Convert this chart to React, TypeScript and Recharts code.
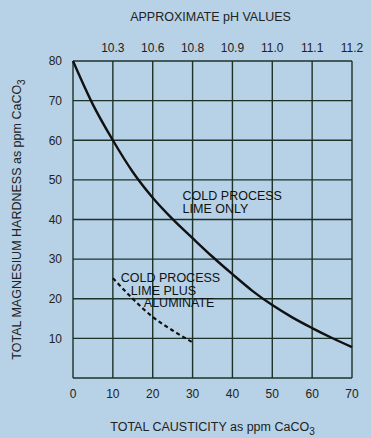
import { CartesianGrid, Label, Line, LineChart, ReferenceDot, XAxis, YAxis } from 'recharts';

const causticity = [0, 5, 10, 15, 20, 25, 30, 35, 40, 45, 50, 55, 60, 65, 70];
const limeOnly = [80, 69, 60, 52, 45.5, 40.1, 35.3, 30.6, 26.2, 22, 18.4, 15.3, 12.6, 10.1, 7.8];
const limeAluminate = [null, null, 25.2, 20, 15.4, 12, 9, null, null, null, null, null, null, null, null];

const xTicks = [0, 10, 20, 30, 40, 50, 60, 70];
const yTicks = [0, 10, 20, 30, 40, 50, 60, 70, 80];
const phTicks = [10, 20, 30, 40, 50, 60, 70];
const phLabels = ['10.3', '10.6', '10.8', '10.9', '11.0', '11.1', '11.2'];

const data = causticity.map((x, i) => ({
	x,
	solid: limeOnly[i],
	dashed: limeAluminate[i],
}));

const font = 'Liberation Sans, Arial, sans-serif';
const ink = '#222';
const grid = '#1d3228';

const LimeOnlyNote = (p: any) => (
	<text x={p.cx} y={p.cy} fontFamily={font} fontSize={12.5} fill='#111'>
		<tspan x={p.cx}>COLD PROCESS</tspan>
		<tspan x={p.cx} dy={13}>LIME ONLY</tspan>
	</text>
);

const AluminateNote = (p: any) => (
	<text x={p.cx} y={p.cy} fontFamily={font} fontSize={12.5} fill='#111'>
		<tspan x={p.cx}>COLD PROCESS</tspan>
		<tspan x={p.cx + 10} dy={12.5}>LIME PLUS</tspan>
		<tspan x={p.cx + 23} dy={12.5}>ALUMINATE</tspan>
	</text>
);

const App = () => {
	return (
		<div style={{ position: 'absolute', left: 0, top: 0, width: 371, height: 438, background: '#b7d1e6' }}>
			<LineChart width={371} height={438} data={data} margin={{ top: 31, right: 19, bottom: 20, left: 0 }}>
				<CartesianGrid stroke={grid} strokeWidth={1.4} horizontalValues={yTicks} verticalValues={xTicks} />
				<XAxis
					dataKey='x'
					type='number'
					domain={[0, 70]}
					ticks={xTicks}
					height={40}
					axisLine={false}
					tickLine={false}
					tickMargin={5}
					tick={{ fill: ink, fontSize: 12, fontFamily: font }}
				>
					<Label
						content={(p: any) => (
							<text x={p.viewBox.x + p.viewBox.width / 2} y={431} textAnchor='middle' fontFamily={font} fontSize={12.5} fill={ink}>
								TOTAL CAUSTICITY as ppm CaCO<tspan dy={4} fontSize={10}>3</tspan>
							</text>
						)}
					/>
				</XAxis>
				<XAxis
					xAxisId='top'
					orientation='top'
					dataKey='x'
					type='number'
					domain={[0, 70]}
					ticks={phTicks}
					tickFormatter={(v: number) => phLabels[phTicks.indexOf(v)]}
					height={30}
					axisLine={false}
					tickLine={false}
					tickMargin={3}
					tick={{ fill: ink, fontSize: 12, fontFamily: font }}
				>
					<Label
						content={(p: any) => (
							<text x={p.viewBox.x + p.viewBox.width / 2 - 2} y={21} textAnchor='middle' fontFamily={font} fontSize={12.5} fill={ink}>
								APPROXIMATE pH VALUES
							</text>
						)}
					/>
				</XAxis>
				<YAxis
					type='number'
					domain={[0, 80]}
					ticks={yTicks.slice(1)}
					width={73}
					axisLine={false}
					tickLine={false}
					tickMargin={5}
					tick={{ fill: ink, fontSize: 12, fontFamily: font }}
				>
					<Label
						content={(p: any) => {
							const cy = p.viewBox.y + p.viewBox.height / 2;
							return (
								<text x={21} y={cy} transform={`rotate(-90 21 ${cy})`} textAnchor='middle' fontFamily={font} fontSize={12.5} fill={ink}>
									TOTAL MAGNESIUM HARDNESS as ppm CaCO<tspan dy={4} fontSize={10}>3</tspan>
								</text>
							);
						}}
					/>
				</YAxis>
				<Line dataKey='solid' type='monotone' stroke='#111' strokeWidth={2.4} dot={false} isAnimationActive={false} />
				<Line
					dataKey='dashed'
					type='monotone'
					stroke='#111'
					strokeWidth={2.2}
					strokeDasharray='4 3'
					dot={false}
					isAnimationActive={false}
				/>
				<ReferenceDot x={27.5} y={44.8} r={0} shape={LimeOnlyNote} />
				<ReferenceDot x={12} y={24.2} r={0} shape={AluminateNote} />
			</LineChart>
		</div>
	);
};

export default App;
